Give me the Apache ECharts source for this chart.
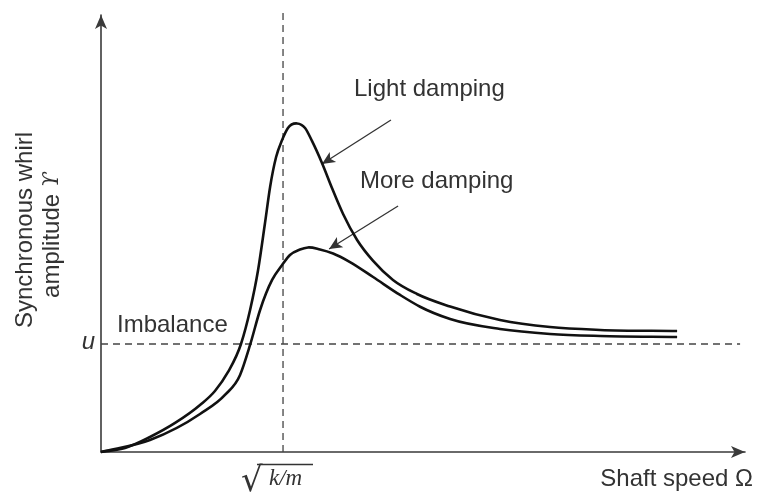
<!DOCTYPE html>
<html><head><meta charset="utf-8">
<script src="https://cdn.jsdelivr.net/npm/echarts@6/dist/echarts.min.js"></script>
<style>html,body{margin:0;padding:0;background:#fff}#c{width:758px;height:497px}</style>
</head><body><div id="c"></div>
<script>
// x: shaft speed in units of sqrt(k/m); y: amplitude in units of u
const lightX = [0, 0.132, 0.269, 0.407, 0.544, 0.626, 0.698, 0.769, 0.819, 0.863, 0.901, 0.929, 0.962, 0.995, 1.027, 1.077, 1.121, 1.159, 1.214, 1.269, 1.330, 1.407, 1.495, 1.604, 1.736, 1.918, 2.192, 2.467, 2.742, 3.165];
const lightY = [0, 0.037, 0.139, 0.269, 0.435, 0.565, 0.741, 1.000, 1.315, 1.685, 2.120, 2.454, 2.731, 2.889, 3.000, 3.042, 3.000, 2.880, 2.676, 2.444, 2.204, 1.963, 1.769, 1.593, 1.463, 1.347, 1.222, 1.157, 1.130, 1.120];
const moreX = [0, 0.269, 0.544, 0.681, 0.764, 0.819, 0.874, 0.940, 0.995, 1.038, 1.093, 1.137, 1.203, 1.275, 1.368, 1.495, 1.643, 1.753, 1.918, 2.192, 2.467, 2.742, 3.165];
const moreY = [0, 0.111, 0.352, 0.528, 0.713, 0.991, 1.315, 1.593, 1.731, 1.824, 1.875, 1.894, 1.875, 1.838, 1.759, 1.620, 1.454, 1.345, 1.231, 1.139, 1.093, 1.074, 1.065];
const resonanceX = [1, 1];
const resonanceY = [0, 4.11];
const imbalanceX = [0, 3.511];
const imbalanceY = [1, 1];
const lightArrow = [[1.593, 3.074], [1.214, 2.667]];
const moreArrow = [[1.632, 2.278], [1.253, 1.880]];

const zip = (a, b) => a.map((v, i) => [v, b[i]]);
const chart = echarts.init(document.getElementById('c'), null, {renderer: 'canvas'});
const axisCol = '#3a3a3a';
const txtCol = '#333';
const sans = '"Liberation Sans", Arial, sans-serif';
const serif = '"Liberation Serif", "DejaVu Serif", serif';

// smooth curve through the data points (cubic Hermite in pixel space, x-parameterised)
function curveRenderer(xs, ys) {
  return function (params, api) {
    if (params.dataIndex !== 0) return null;
    const p = xs.map((x, i) => api.coord([x, ys[i]]));
    const n = p.length;
    const m = [];
    for (let i = 0; i < n; i++) {
      if (i === 0) m.push((p[1][1] - p[0][1]) / (p[1][0] - p[0][0]));
      else if (i === n - 1) m.push((p[n - 1][1] - p[n - 2][1]) / (p[n - 1][0] - p[n - 2][0]));
      else {
        const h0 = p[i][0] - p[i - 1][0], h1 = p[i + 1][0] - p[i][0];
        const d0 = (p[i][1] - p[i - 1][1]) / h0, d1 = (p[i + 1][1] - p[i][1]) / h1;
        m.push((d0 * h1 + d1 * h0) / (h0 + h1));
      }
    }
    let d = 'M' + p[0][0] + ' ' + p[0][1];
    for (let i = 0; i < n - 1; i++) {
      const h = p[i + 1][0] - p[i][0];
      d += ' C' + (p[i][0] + h / 3) + ' ' + (p[i][1] + m[i] * h / 3) + ' ' +
        (p[i + 1][0] - h / 3) + ' ' + (p[i + 1][1] - m[i + 1] * h / 3) + ' ' +
        p[i + 1][0] + ' ' + p[i + 1][1];
    }
    return {type: 'path', shape: {pathData: d}, style: {fill: 'none', stroke: '#111', lineWidth: 2.6, lineJoin: 'round'}};
  };
}

const option = {
  backgroundColor: '#fff',
  animation: false,
  grid: {left: 101, right: 13, top: 15, bottom: 45, containLabel: false},
  xAxis: {
    type: 'value', min: 0, max: 3.538,
    axisLine: {show: true, symbol: ['none', 'arrow'], symbolSize: [9, 14], lineStyle: {color: axisCol, width: 1.6}},
    axisTick: {show: false}, splitLine: {show: false}, axisLabel: {show: false}
  },
  yAxis: {
    type: 'value', min: 0, max: 4.046,
    axisLine: {show: true, symbol: ['none', 'arrow'], symbolSize: [9, 14], lineStyle: {color: axisCol, width: 1.6}},
    axisTick: {show: false}, axisLabel: {show: false}, splitLine: {show: false}
  },
  series: [
    {type: 'custom', name: 'Light damping', data: zip(lightX, lightY), renderItem: curveRenderer(lightX, lightY), z: 5, silent: true},
    {type: 'custom', name: 'More damping', data: zip(moreX, moreY), renderItem: curveRenderer(moreX, moreY), z: 5, silent: true},
    {type: 'line', data: zip(resonanceX, resonanceY), symbol: 'none', clip: false, z: 3,
     lineStyle: {color: '#444', width: 1.3, type: [7, 5]},
     markLine: {silent: true, symbol: ['none', 'arrow'], symbolSize: [9, 13],
       lineStyle: {color: '#333', width: 1.3, type: 'solid'}, label: {show: false},
       data: [[{coord: lightArrow[0]}, {coord: lightArrow[1]}], [{coord: moreArrow[0]}, {coord: moreArrow[1]}]]}},
    {type: 'line', data: zip(imbalanceX, imbalanceY), symbol: 'none', clip: false, z: 3,
     lineStyle: {color: '#444', width: 1.3, type: [7, 5]}}
  ],
  graphic: [
    {type: 'text', style: {x: 354, y: 89, text: 'Light damping', font: '24px ' + sans, fill: txtCol, textAlign: 'left', textVerticalAlign: 'middle'}},
    {type: 'text', style: {x: 360, y: 181, text: 'More damping', font: '24px ' + sans, fill: txtCol, textAlign: 'left', textVerticalAlign: 'middle'}},
    {type: 'text', style: {x: 117, y: 325, text: 'Imbalance', font: '24px ' + sans, fill: txtCol, textAlign: 'left', textVerticalAlign: 'middle'}},
    {type: 'text', style: {x: 95, y: 342, text: 'u', font: 'italic 24px ' + sans, fill: txtCol, textAlign: 'right', textVerticalAlign: 'middle'}},
    {type: 'text', style: {x: 753, y: 479, text: 'Shaft speed Ω', font: '24px ' + sans, fill: txtCol, textAlign: 'right', textVerticalAlign: 'middle'}},
    {type: 'text', x: 25, y: 230, rotation: Math.PI / 2, style: {x: 0, y: 0, text: 'Synchronous whirl', font: '24px ' + sans, fill: txtCol, textAlign: 'center', textVerticalAlign: 'middle'}},
    {type: 'text', x: 52, y: 235, rotation: Math.PI / 2, style: {x: 0, y: 0, text: 'amplitude {g|ϒ}', font: '24px ' + sans, fill: txtCol, textAlign: 'center', textVerticalAlign: 'middle',
      rich: {g: {fontFamily: '"DejaVu Serif", serif', fontStyle: 'italic', fontSize: 22, fill: txtCol}}}},
    {type: 'text', style: {x: 241, y: 499, text: '√', font: '34px "DejaVu Sans", sans-serif', fill: txtCol, textAlign: 'left', textVerticalAlign: 'bottom'}},
    {type: 'text', style: {x: 269, y: 479, text: 'k/m', font: 'italic 23px ' + serif, fill: txtCol, textAlign: 'left', textVerticalAlign: 'middle'}},
    {type: 'line', shape: {x1: 257, y1: 464.5, x2: 313, y2: 464.5}, style: {stroke: txtCol, lineWidth: 1.6}}
  ]
};
chart.setOption(option);
</script></body></html>
